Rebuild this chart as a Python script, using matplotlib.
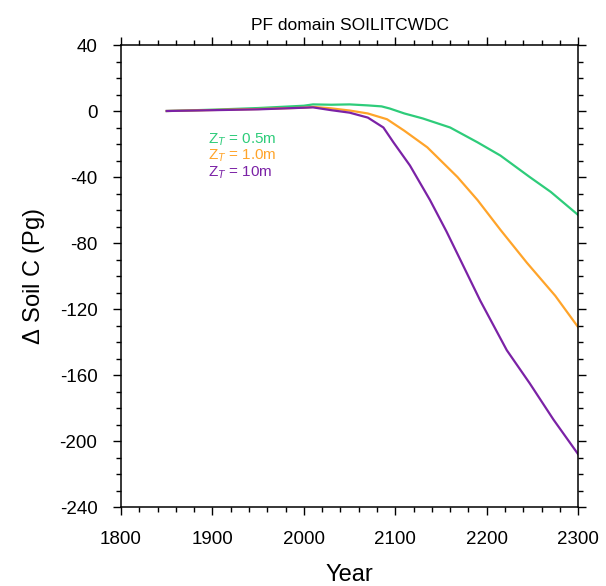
import matplotlib
matplotlib.use('Agg')
import matplotlib.pyplot as plt
from matplotlib.ticker import MultipleLocator

plt.rcParams['font.family'] = ['Liberation Sans', 'DejaVu Sans']
plt.rcParams['axes.unicode_minus'] = False
plt.rcParams['mathtext.fontset'] = 'custom'
plt.rcParams['mathtext.rm'] = 'Liberation Sans'
plt.rcParams['mathtext.it'] = 'Liberation Sans:italic'

# values
yr_05 = [1850, 1900, 1950, 2000, 2010, 2030, 2050, 2070, 2085, 2094, 2110, 2130,
         2160, 2190, 2215, 2247, 2270, 2300]
soil_05 = [0, 0.8, 1.8, 3.2, 4.0, 3.8, 4.0, 3.4, 2.8, 1.5, -1.5, -4.5,
           -10, -19, -27, -40, -49, -63]

yr_10 = [1850, 1900, 1950, 2000, 2010, 2030, 2050, 2070, 2091, 2110, 2135,
         2168, 2190, 2215, 2244, 2275, 2300]
soil_10 = [0, 0.6, 1.2, 2.0, 2.5, 1.6, 0.3, -1.5, -5, -12, -22,
           -40, -54, -72, -92, -112, -131]

yr_100 = [1850, 1900, 1950, 2000, 2010, 2030, 2050, 2070, 2087, 2098, 2116, 2138,
          2156, 2171, 2193, 2222, 2247, 2273, 2300]
soil_100 = [0, 0.5, 1.0, 2.0, 2.2, 0.5, -1, -4, -10, -19, -33, -54,
            -73, -90, -115, -145, -165, -187, -208]

labels = [r'Z$_T$ = 0.5m', r'Z$_T$ = 1.0m', r'Z$_T$ = 10m']
colors = ['#2ecc7a', '#ffa42a', '#7b22a6']

fig = plt.figure(figsize=(6.06, 5.86), dpi=100)
ax = fig.add_axes([0.1997, 0.1348, 0.7543, 0.7884])

for x, y, c in zip([yr_05, yr_10, yr_100], [soil_05, soil_10, soil_100], colors):
    ax.plot(x, y, color=c, lw=1.6)

ax.set_xlim(1800, 2300)
ax.set_ylim(-240, 40)
ax.xaxis.set_major_locator(MultipleLocator(100))
ax.xaxis.set_minor_locator(MultipleLocator(20))
ax.yaxis.set_major_locator(MultipleLocator(40))
ax.yaxis.set_minor_locator(MultipleLocator(10))
ax.tick_params(which='both', direction='out', top=True, right=True,
               labelsize=13.5, width=1)
ax.tick_params(which='major', length=6, pad=11)
ax.tick_params(which='minor', length=3.5)
for s in ax.spines.values():
    s.set_linewidth(1.1)

ax.set_title('PF domain SOILITCWDC', fontsize=12.5, pad=11)
ax.set_xlabel('Year', fontsize=17, labelpad=12)
ax.set_ylabel(r'$\Delta$ Soil C (Pg)', fontsize=17, labelpad=9)

for i, (lab, c) in enumerate(zip(labels, colors)):
    ax.text(0.19, 0.786 - i * 0.035, lab, color=c, fontsize=11,
            transform=ax.transAxes, va='baseline')

fig.savefig('out.png', dpi=100)
